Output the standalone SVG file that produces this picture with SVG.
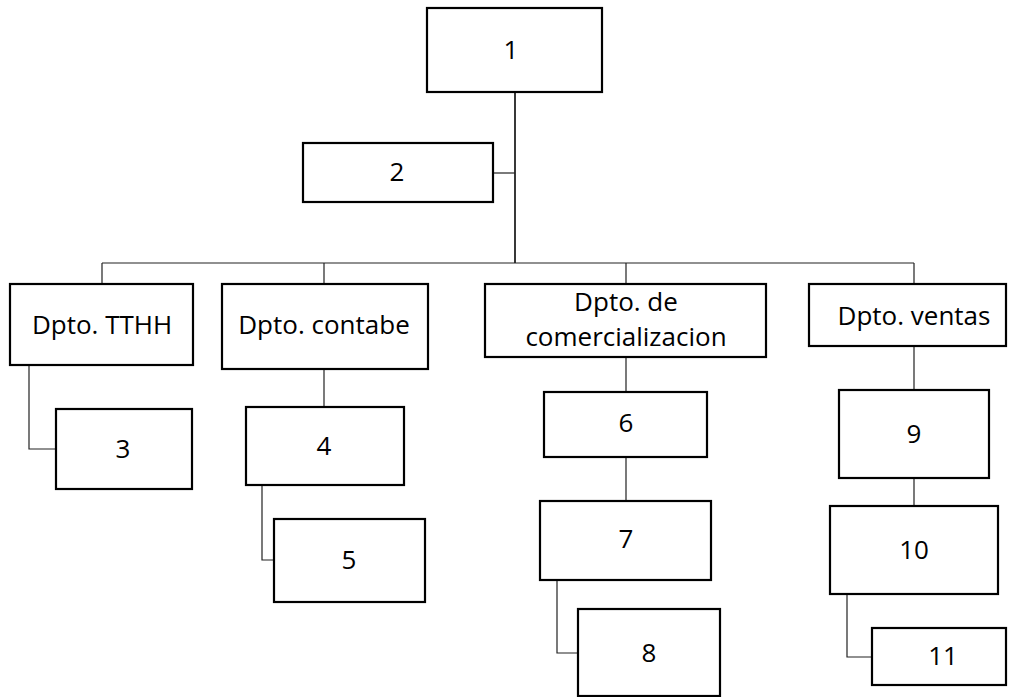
<svg xmlns="http://www.w3.org/2000/svg" width="1010" height="697" viewBox="0 0 1010 697">
<style>
.box{fill:#fff;stroke:#000;stroke-width:2.2}
.t{font-family:"Open Sans","Noto Sans","Liberation Sans",sans-serif;font-size:26px;fill:#000;text-anchor:middle}
.c{fill:none;stroke:#222;stroke-width:1.2}
</style>
<rect width="1010" height="697" fill="#fff"/>
<g id="connectors">
<path class="c" d="M515,92V263" style="stroke-width:1.8"/>
<path class="c" d="M493,173H515"/>
<path class="c" d="M102,263H914"/>
<path class="c" d="M102,263V284M324,263V284M626,263V284M914,263V284"/>
<path class="c" d="M29,365V449H56"/>
<path class="c" d="M324,369V407"/>
<path class="c" d="M262,485V560H274"/>
<path class="c" d="M626,357V392M626,457V501"/>
<path class="c" d="M557,580V653H578"/>
<path class="c" d="M914,346V390M914,478V506"/>
<path class="c" d="M847,594V657H872"/>
</g>
<g id="n1"><rect class="box" x="427" y="8" width="175" height="84"/><text class="t" x="511" y="59">1</text></g>
<g id="n2"><rect class="box" x="303" y="143" width="190" height="59"/><text class="t" x="397" y="181">2</text></g>
<g id="tthh"><rect class="box" x="10" y="284" width="183" height="81"/><text class="t" x="102" y="334">Dpto. TTHH</text></g>
<g id="contabe"><rect class="box" x="222" y="284" width="206" height="85"/><text class="t" x="324" y="334">Dpto. contabe</text></g>
<g id="n3"><rect class="box" x="56" y="409" width="136" height="80"/><text class="t" x="123" y="458">3</text></g>
<g id="n4"><rect class="box" x="246" y="407" width="158" height="78"/><text class="t" x="324" y="455">4</text></g>
<g id="n5"><rect class="box" x="274" y="519" width="151" height="83"/><text class="t" x="349" y="569">5</text></g>
<g id="comercial"><rect class="box" x="485" y="284" width="281" height="73"/><text class="t" x="626" y="311">Dpto. de</text><text class="t" x="626" y="346">comercializacion</text></g>
<g id="n6"><rect class="box" x="544" y="392" width="163" height="65"/><text class="t" x="626" y="432">6</text></g>
<g id="n7"><rect class="box" x="540" y="501" width="171" height="79"/><text class="t" x="626" y="548">7</text></g>
<g id="n8"><rect class="box" x="578" y="609" width="142" height="87"/><text class="t" x="649" y="662">8</text></g>
<g id="ventas"><rect class="box" x="809" y="284" width="197" height="62"/><text class="t" x="914" y="325">Dpto. ventas</text></g>
<g id="n9"><rect class="box" x="839" y="390" width="150" height="88"/><text class="t" x="914" y="443">9</text></g>
<g id="n10"><rect class="box" x="830" y="506" width="168" height="88"/><text class="t" x="914" y="559">10</text></g>
<g id="n11"><rect class="box" x="872" y="628" width="134" height="57"/><text class="t" x="943" y="665">11</text></g>
</svg>
